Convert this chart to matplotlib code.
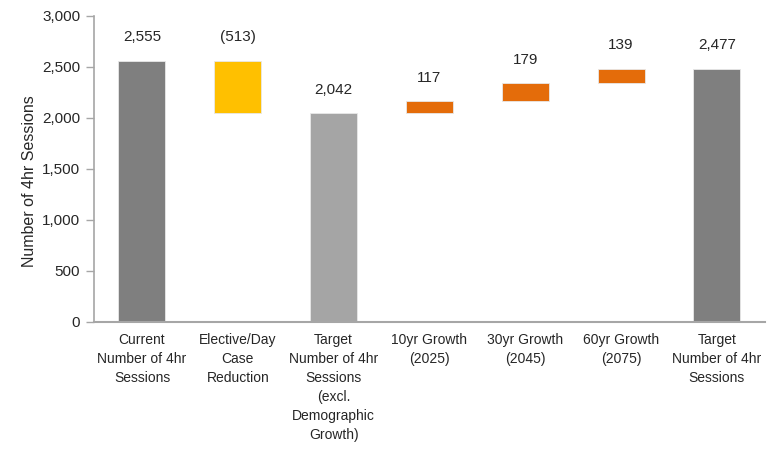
import numpy as np
import matplotlib.pyplot as plt
from matplotlib.ticker import FuncFormatter

plt.rcParams['font.family'] = ['Liberation Sans', 'DejaVu Sans']

categories = ['Current\nNumber of 4hr\nSessions', 'Elective/Day\nCase\nReduction',
              'Target\nNumber of 4hr\nSessions\n(excl.\nDemographic\nGrowth)',
              '10yr Growth\n(2025)', '30yr Growth\n(2045)', '60yr Growth\n(2075)',
              'Target\nNumber of 4hr\nSessions']
values = [2555, -513, 2042, 117, 179, 139, 2477]
is_total = [True, False, True, False, False, False, True]
colors = ['#7f7f7f', '#ffc000', '#a5a5a5', '#e46c0a', '#e46c0a', '#e46c0a', '#7f7f7f']

# waterfall bottoms / heights
bottoms = []
heights = []
running = 0
for v, t in zip(values, is_total):
    if t:
        bottoms.append(0)
        heights.append(v)
        running = v
    else:
        if v < 0:
            bottoms.append(running + v)
        else:
            bottoms.append(running)
        heights.append(abs(v))
        running = running + v

fig = plt.figure(figsize=(7.71, 4.55), dpi=100)
ax = fig.add_axes([0.122, 0.293, 0.870, 0.6725])

x = np.arange(len(values))
ax.bar(x, heights, bottom=bottoms, width=0.49, color=colors, edgecolor='#e8e8e8', linewidth=0.6, zorder=2)

for i in range(len(values)):
    v = values[i]
    if v < 0:
        txt = '(%s)' % format(-v, ',')
    else:
        txt = format(v, ',')
    ax.annotate(txt, (x[i], bottoms[i] + heights[i]), xytext=(0, 12), textcoords='offset points',
                ha='center', va='bottom', fontsize=11, color='#262626')

ax.set_ylim(0, 3000)
ax.set_xlim(-0.5, len(values) - 0.5)
ax.set_yticks(np.arange(0, 3001, 500))
ax.yaxis.set_major_formatter(FuncFormatter(lambda v, p: format(int(v), ',')))
ax.set_xticks(x)
ax.set_xticklabels(categories, fontsize=10, color='#262626', linespacing=1.45)
ax.tick_params(axis='x', length=0, pad=8)
ax.tick_params(axis='y', length=6, width=1, color='#a6a6a6', labelsize=11, labelcolor='#262626', pad=4)
ax.set_ylabel('Number of 4hr Sessions', fontsize=11.5, color='#262626')
ax.yaxis.set_label_coords(-0.085, 0.46)

for s in ['top', 'right']:
    ax.spines[s].set_visible(False)
ax.spines['left'].set_color('#a6a6a6')
ax.spines['bottom'].set_color('#a6a6a6')
ax.spines['left'].set_linewidth(1.2)
ax.spines['bottom'].set_linewidth(1.5)

plt.savefig('out.png', dpi=100)
